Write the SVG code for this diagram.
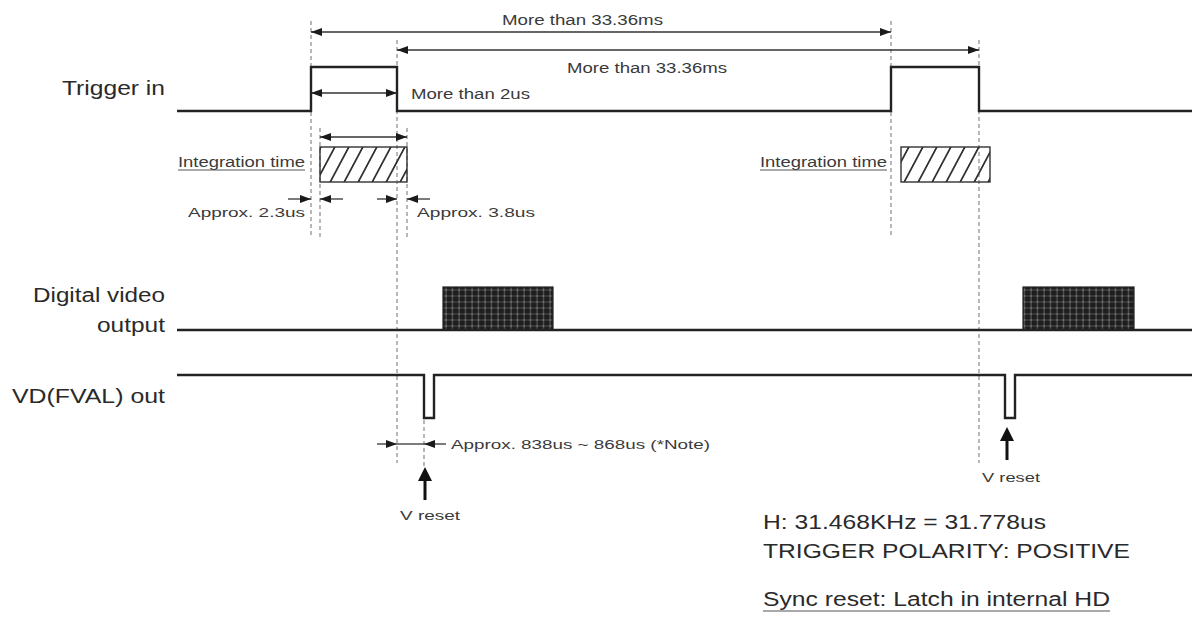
<svg xmlns="http://www.w3.org/2000/svg" width="1199" height="626" viewBox="0 0 1199 626">
<style>
.sig{fill:none;stroke:#222;stroke-width:2.4}
.dash{fill:none;stroke:#9a9a9a;stroke-width:1.4;stroke-dasharray:4 3}
.dim{fill:none;stroke:#333;stroke-width:1.3}
.lbl{font-family:"Liberation Sans",Arial,sans-serif;font-size:19.5px;fill:#2a2a2a}
.sm{font-family:"Liberation Sans",Arial,sans-serif;font-size:14px;fill:#3a3a3a}
.xs{font-family:"Liberation Sans",Arial,sans-serif;font-size:12.5px;fill:#3a3a3a}
.ul{stroke:#555;stroke-width:1}
.vr{fill:none;stroke:#111;stroke-width:3}
</style>
<defs>
<marker id="ah" viewBox="0 0 11 8" refX="11" refY="4" markerWidth="11" markerHeight="8" markerUnits="userSpaceOnUse" orient="auto-start-reverse">
<path d="M0,0 L11,4 L0,8 Z" fill="#1a1a1a"/>
</marker>
<pattern id="hatch" patternUnits="userSpaceOnUse" width="14" height="40" patternTransform="skewX(-28)">
<line x1="7" y1="-2" x2="7" y2="42" stroke="#333" stroke-width="2"/>
</pattern>
<pattern id="dots" patternUnits="userSpaceOnUse" width="6.5" height="6" x="443" y="287">
<rect width="6.5" height="6" fill="#1e1e1e"/>
<rect x="2.5" y="0" width="1" height="6" fill="#666"/>
<rect x="0" y="2.5" width="6.5" height="1" fill="#505050"/>
<rect x="2.5" y="2.5" width="1" height="1" fill="#bbb"/>
</pattern>
</defs>
<rect width="1199" height="626" fill="#fff"/>

<g id="guides">
<line class="dash" x1="311" y1="21" x2="311" y2="237"/>
<line class="dash" x1="320" y1="128" x2="320" y2="237"/>
<line class="dash" x1="397" y1="40" x2="397" y2="463"/>
<line class="dash" x1="407" y1="128" x2="407" y2="237"/>
<line class="dash" x1="891" y1="21" x2="891" y2="237"/>
<line class="dash" x1="979" y1="40" x2="979" y2="463"/>
<line class="dash" x1="424" y1="420" x2="424" y2="466"/>
</g>

<g id="trigger-in">
<text class="lbl" x="165" y="95" text-anchor="end" textLength="103" lengthAdjust="spacingAndGlyphs">Trigger in</text>
<path class="sig" d="M177,111 H311 V67 H397 V111 H891 V67 H979 V111 H1192"/>
</g>

<g id="integration-1">
<rect x="320" y="147" width="87" height="35" fill="url(#hatch)" stroke="#333" stroke-width="1.4"/>
<text class="sm" x="178" y="167" textLength="127" lengthAdjust="spacingAndGlyphs">Integration time</text>
<line class="ul" x1="178" y1="170" x2="305" y2="170"/>
</g>

<g id="integration-2">
<rect x="901" y="147" width="89" height="35" fill="url(#hatch)" stroke="#333" stroke-width="1.4"/>
<text class="sm" x="760" y="167" textLength="127" lengthAdjust="spacingAndGlyphs">Integration time</text>
<line class="ul" x1="760" y1="170" x2="887" y2="170"/>
</g>

<g id="digital-video-output">
<text class="lbl" x="165" y="302" text-anchor="end" textLength="132" lengthAdjust="spacingAndGlyphs">Digital video</text>
<text class="lbl" x="165" y="332" text-anchor="end" textLength="68" lengthAdjust="spacingAndGlyphs">output</text>
<rect x="443" y="287" width="110" height="43" fill="url(#dots)" stroke="#222" stroke-width="1.2"/>
<rect x="1023" y="287" width="111" height="43" fill="url(#dots)" stroke="#222" stroke-width="1.2"/>
<path class="sig" d="M177,330 H1192"/>
</g>

<g id="vd-fval-out">
<text class="lbl" x="165" y="403" text-anchor="end" textLength="153" lengthAdjust="spacingAndGlyphs">VD(FVAL) out</text>
<path class="sig" d="M177,375 H424 V418 H434 V375 H1005 V418 H1015 V375 H1192"/>
</g>

<g id="notes">
<text class="lbl" x="763" y="529" textLength="283" lengthAdjust="spacingAndGlyphs">H: 31.468KHz = 31.778us</text>
<text class="lbl" x="763" y="558" textLength="367" lengthAdjust="spacingAndGlyphs">TRIGGER POLARITY: POSITIVE</text>
<text class="lbl" x="763" y="606" textLength="347" lengthAdjust="spacingAndGlyphs">Sync reset: Latch in internal HD</text>
<line x1="763" y1="611" x2="1110" y2="611" stroke="#555" stroke-width="1.2"/>
</g>

<g id="connectors">
<line class="dim" x1="311" y1="32" x2="891" y2="32" marker-start="url(#ah)" marker-end="url(#ah)"/>
<text class="sm" x="502" y="25" textLength="161" lengthAdjust="spacingAndGlyphs">More than 33.36ms</text>
<line class="dim" x1="397" y1="50" x2="979" y2="50" marker-start="url(#ah)" marker-end="url(#ah)"/>
<text class="sm" x="567" y="73" textLength="160" lengthAdjust="spacingAndGlyphs">More than 33.36ms</text>
<line class="dim" x1="311" y1="93" x2="397" y2="93" marker-start="url(#ah)" marker-end="url(#ah)"/>
<text class="sm" x="411" y="99" textLength="119" lengthAdjust="spacingAndGlyphs">More than 2us</text>
<line class="dim" x1="320" y1="137" x2="407" y2="137" marker-start="url(#ah)" marker-end="url(#ah)"/>

<line class="dim" x1="288" y1="199" x2="311" y2="199" marker-end="url(#ah)"/>
<line class="dim" x1="343" y1="199" x2="320" y2="199" marker-end="url(#ah)"/>
<text class="xs" x="188" y="217" textLength="117" lengthAdjust="spacingAndGlyphs">Approx.  2.3us</text>
<line class="dim" x1="377" y1="199" x2="397" y2="199" marker-end="url(#ah)"/>
<line class="dim" x1="430" y1="199" x2="407" y2="199" marker-end="url(#ah)"/>
<text class="xs" x="417" y="217" textLength="118" lengthAdjust="spacingAndGlyphs">Approx.  3.8us</text>

<line class="dim" x1="377" y1="444" x2="397" y2="444" marker-end="url(#ah)"/>
<line class="dim" x1="397" y1="444" x2="424" y2="444"/>
<line class="dim" x1="446" y1="444" x2="424" y2="444" marker-end="url(#ah)"/>
<text class="xs" x="451" y="449" textLength="259" lengthAdjust="spacingAndGlyphs">Approx.  838us ~ 868us (*Note)</text>

<line class="vr" x1="425" y1="500" x2="425" y2="478"/>
<path d="M425,467 L432,481 L418,481 Z" fill="#111"/>
<text class="xs" x="400" y="520" textLength="60" lengthAdjust="spacingAndGlyphs">V reset</text>
<line class="vr" x1="1007" y1="460" x2="1007" y2="438"/>
<path d="M1007,427 L1014,441 L1000,441 Z" fill="#111"/>
<text class="xs" x="982" y="482" textLength="58" lengthAdjust="spacingAndGlyphs">V reset</text>
</g>
</svg>
